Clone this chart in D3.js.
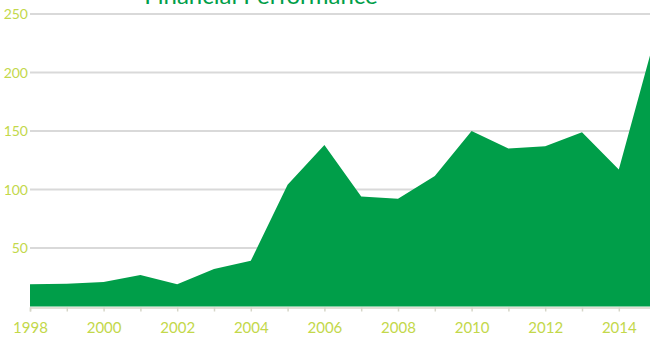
<!DOCTYPE html>
<html>
<head>
<meta charset="utf-8">
<script src="https://cdn.jsdelivr.net/npm/d3@7"></script>
<style>
  html, body { margin: 0; padding: 0; background: #ffffff; }
  svg { display: block; }
</style>
</head>
<body>
<svg id="chart" width="650" height="340"></svg>
<script>
// Yearly figures for the area series
const years = [1998, 1999, 2000, 2001, 2002, 2003, 2004, 2005, 2006, 2007, 2008,
               2009, 2010, 2011, 2012, 2013, 2014, 2015];
const values = [19, 19.5, 21, 27, 19, 32, 39, 104, 138, 94, 92,
                111.5, 150, 135, 137, 149, 117, 232];
const yTicks = [50, 100, 150, 200, 250];
const xTickLabels = [1998, 2000, 2002, 2004, 2006, 2008, 2010, 2012, 2014];
const title = "Financial Performance";

const svg = d3.select("#chart");
const W = 650, H = 340;

const x = d3.scaleLinear().domain([1998, 2015]).range([30, 655.6]);
const y = d3.scaleLinear().domain([0, 250]).range([306.5, 14]);

const labelFont = "Lato, 'Open Sans', sans-serif";
const labelColor = "#c3d84a";
const green = "#009e49";

// horizontal gridlines
svg.append("g")
  .selectAll("line")
  .data(yTicks)
  .join("line")
  .attr("x1", 30).attr("x2", W)
  .attr("y1", d => y(d)).attr("y2", d => y(d))
  .attr("stroke", "#d9d9d9")
  .attr("stroke-width", 2);

// y-axis labels
svg.append("g")
  .selectAll("text")
  .data(yTicks)
  .join("text")
  .attr("x", 28)
  .attr("y", d => y(d))
  .attr("dy", "0.36em")
  .attr("text-anchor", "end")
  .attr("font-family", labelFont)
  .attr("font-size", 14)
  .attr("fill", labelColor)
  .text(d => d);

// filled area
const area = d3.area()
  .x((d, i) => x(years[i]))
  .y0(y(0))
  .y1(d => y(d));

svg.append("path")
  .datum(values)
  .attr("d", area)
  .attr("fill", green);

// x axis with a tick every year, labels every other year
const xAxis = d3.axisBottom(x)
  .tickValues(years)
  .tickSize(4)
  .tickFormat(d => xTickLabels.includes(d) ? d : "");

const gx = svg.append("g")
  .attr("transform", `translate(0,${y(0) + 1})`)
  .call(xAxis);

gx.select(".domain")
  .attr("stroke", "#d6d6c8")
  .attr("stroke-width", 1.5);
gx.selectAll(".tick line")
  .attr("stroke", "#d6d6c8")
  .attr("stroke-width", 1.5);
gx.selectAll(".tick text")
  .attr("font-family", labelFont)
  .attr("font-size", 15)
  .attr("fill", labelColor)
  .attr("dy", "1.25em");

// chart title, sitting partly above the top edge
svg.append("text")
  .attr("x", 261)
  .attr("y", 4)
  .attr("text-anchor", "middle")
  .attr("font-family", labelFont)
  .attr("font-size", 24)
  .attr("fill", green)
  .text(title);
</script>
</body>
</html>
